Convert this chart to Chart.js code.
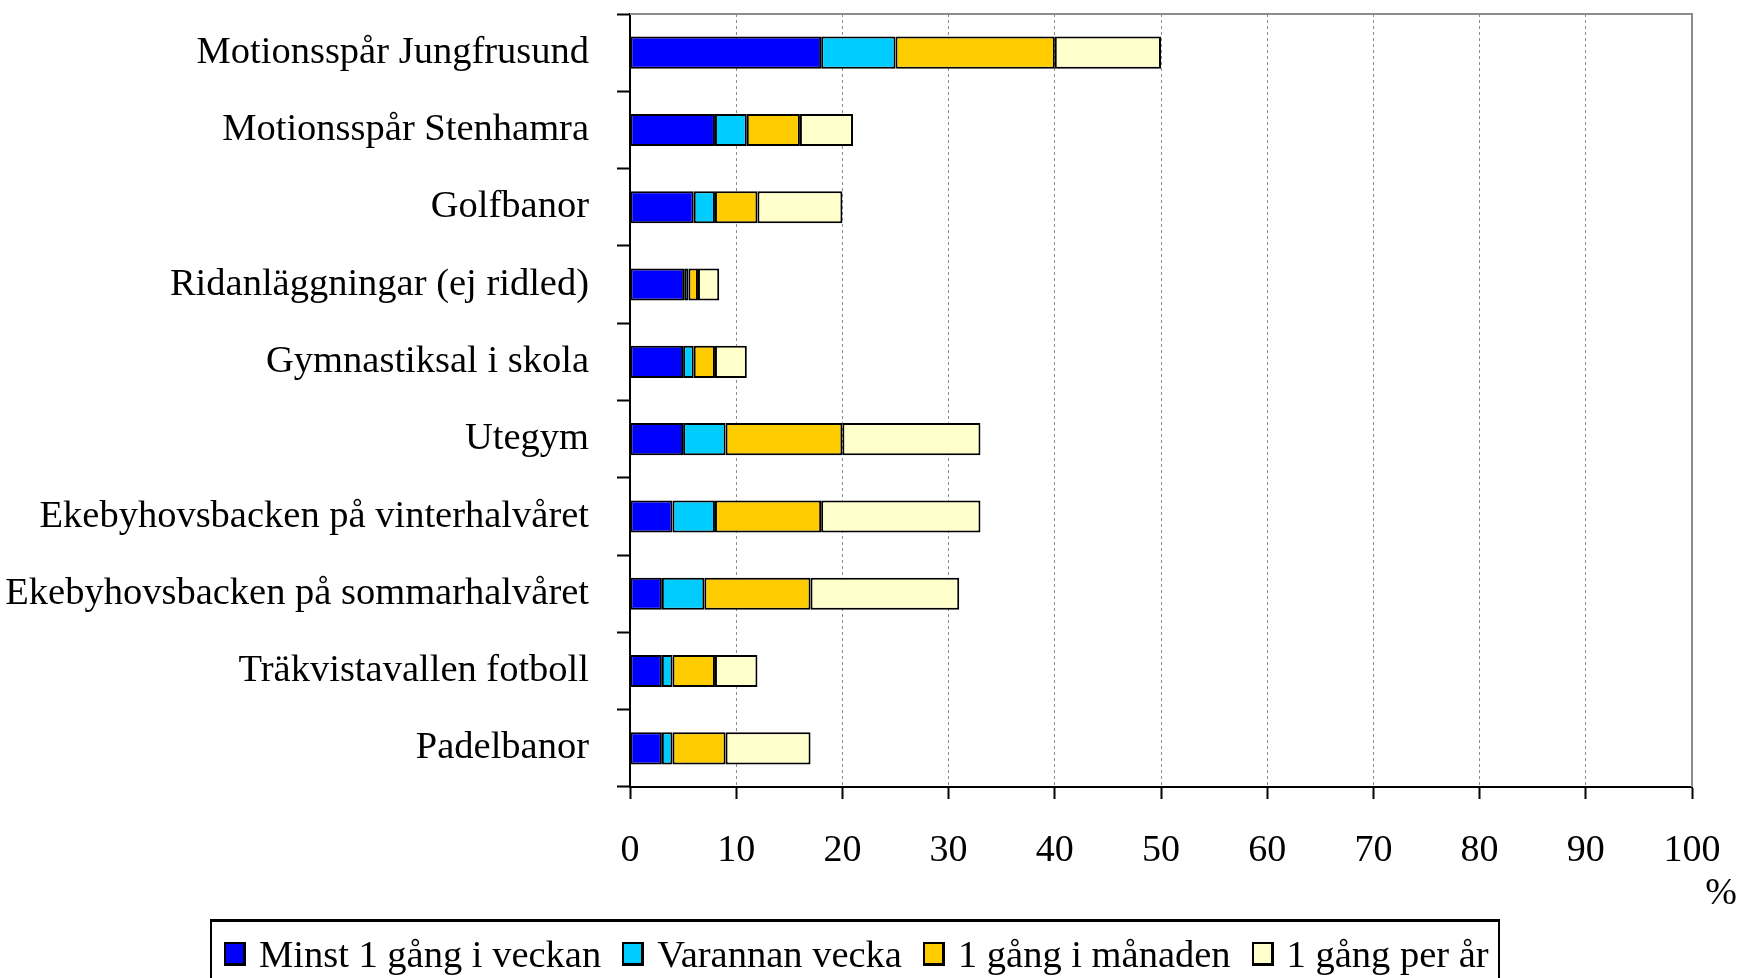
<!DOCTYPE html>
<html lang="sv">
<head>
<meta charset="UTF-8">
<title>Besök idrottsanläggningar</title>
<script src="https://cdn.jsdelivr.net/npm/chart.js"></script>
<style>
  body { margin: 0; background: #fff; }
  #wrap { position: relative; width: 1741px; height: 978px; overflow: hidden; }
  #legend {
    position: absolute; left: 210px; top: 919px; width: 1290px; height: 80px;
    border: 2px solid #000; border-top-width: 3px; box-sizing: border-box;
    font-family: "Liberation Serif", "Times New Roman", serif; font-size: 38.5px;
    display: flex; align-items: flex-start; padding: 10px 0 0 12px; white-space: nowrap;
  }
  #legend .item { display: flex; align-items: center; margin-right: 21px; }
  #legend .box { width: 22px; height: 24px; border: 2px solid #000; border-right-width: 3px; border-bottom-width: 3px; box-sizing: border-box; margin-right: 13px; }
</style>
</head>
<body>
<div id="wrap">
  <canvas id="chart" width="1741" height="978"></canvas>
  <div id="legend"></div>
</div>
<script>
// data
var categories = [
  'Motionsspår Jungfrusund',
  'Motionsspår Stenhamra',
  'Golfbanor',
  'Ridanläggningar (ej ridled)',
  'Gymnastiksal i skola',
  'Utegym',
  'Ekebyhovsbacken på vinterhalvåret',
  'Ekebyhovsbacken på sommarhalvåret',
  'Träkvistavallen fotboll',
  'Padelbanor'
];
var minstVeckan = [18, 8, 6, 5.1, 5, 5, 4, 3, 3, 3];
var varannanVecka = [7, 3, 2, 0.4, 1, 4, 4, 4, 1, 1];
var gangManaden = [15, 5, 4, 0.9, 2, 11, 10, 10, 4, 5];
var gangPerAr = [10, 5, 8, 2, 3, 13, 15, 14, 4, 8];
var seriesNames = ['Minst 1 gång i veckan', 'Varannan vecka', '1 gång i månaden', '1 gång per år'];
var seriesColors = ['#0000FF', '#00CCFF', '#FFCC00', '#FFFFCC'];
var xTicks = [0, 10, 20, 30, 40, 50, 60, 70, 80, 90, 100];

var serif = '"Liberation Serif", "Times New Roman", serif';
var allSeries = [minstVeckan, varannanVecka, gangManaden, gangPerAr];

var datasets = allSeries.map(function(vals, i) {
  return {
    label: seriesNames[i],
    data: vals,
    backgroundColor: seriesColors[i],
    borderColor: '#000',
    borderWidth: 2,
    borderSkipped: false,
    barPercentage: 0.415,
    categoryPercentage: 1
  };
});

// grey frame on top and right of the plot area, plus the "%" unit
var framePlugin = {
  id: 'frame',
  beforeDatasetsDraw: function(chart) {
    var a = chart.chartArea, ctx = chart.ctx;
    ctx.save();
    ctx.strokeStyle = '#8c8c8c';
    ctx.lineWidth = 2;
    ctx.beginPath();
    ctx.moveTo(a.left, a.top);
    ctx.lineTo(a.right, a.top);
    ctx.lineTo(a.right, a.bottom);
    ctx.stroke();
    ctx.restore();
  },
  afterDraw: function(chart) {
    var a = chart.chartArea, ctx = chart.ctx;
    ctx.save();
    ctx.fillStyle = '#000';
    ctx.font = '38px ' + serif;
    ctx.textAlign = 'center';
    ctx.textBaseline = 'middle';
    ctx.fillText('%', a.right + 29, a.bottom + 107);
    ctx.restore();
  }
};

function noPad(scale) {
  scale.paddingTop = 0;
  scale.paddingBottom = 0;
  scale.paddingLeft = 0;
  scale.paddingRight = 0;
}

var ctx = document.getElementById('chart').getContext('2d');
var chart = new Chart(ctx, {
  type: 'bar',
  data: { labels: categories, datasets: datasets },
  options: {
    indexAxis: 'y',
    responsive: false,
    animation: false,
    layout: { padding: { top: 14, right: 49, bottom: 0, left: 0 } },
    plugins: {
      legend: { display: false },
      tooltip: { enabled: false }
    },
    scales: {
      x: {
        stacked: true,
        min: 0,
        max: 100,
        afterBuildTicks: function(scale) {
          scale.ticks = xTicks.map(function(v) { return { value: v }; });
        },
        afterFit: function(scale) { scale.height = 191; noPad(scale); },
        ticks: { color: '#000', font: { family: serif, size: 38 }, padding: 29, maxRotation: 0 },
        grid: {
          color: '#8c8c8c',
          lineWidth: 1,
          tickColor: '#000',
          tickWidth: 2,
          tickLength: 12,
          tickBorderDash: []
        },
        border: { color: '#000', width: 2, dash: [3, 3] }
      },
      y: {
        stacked: true,
        afterFit: function(scale) { scale.width = 630; noPad(scale); },
        ticks: { color: '#000', font: { family: serif, size: 38.5 }, padding: 28, autoSkip: false },
        grid: {
          drawOnChartArea: false,
          tickColor: '#000',
          tickWidth: 2,
          tickLength: 13
        },
        border: { color: '#000', width: 2 }
      }
    }
  },
  plugins: [framePlugin]
});

// legend
var legendEl = document.getElementById('legend');
seriesNames.forEach(function(name, i) {
  var item = document.createElement('div');
  item.className = 'item';
  var box = document.createElement('span');
  box.className = 'box';
  box.style.background = seriesColors[i];
  var txt = document.createElement('span');
  txt.textContent = name;
  item.appendChild(box);
  item.appendChild(txt);
  legendEl.appendChild(item);
});
</script>
</body>
</html>
